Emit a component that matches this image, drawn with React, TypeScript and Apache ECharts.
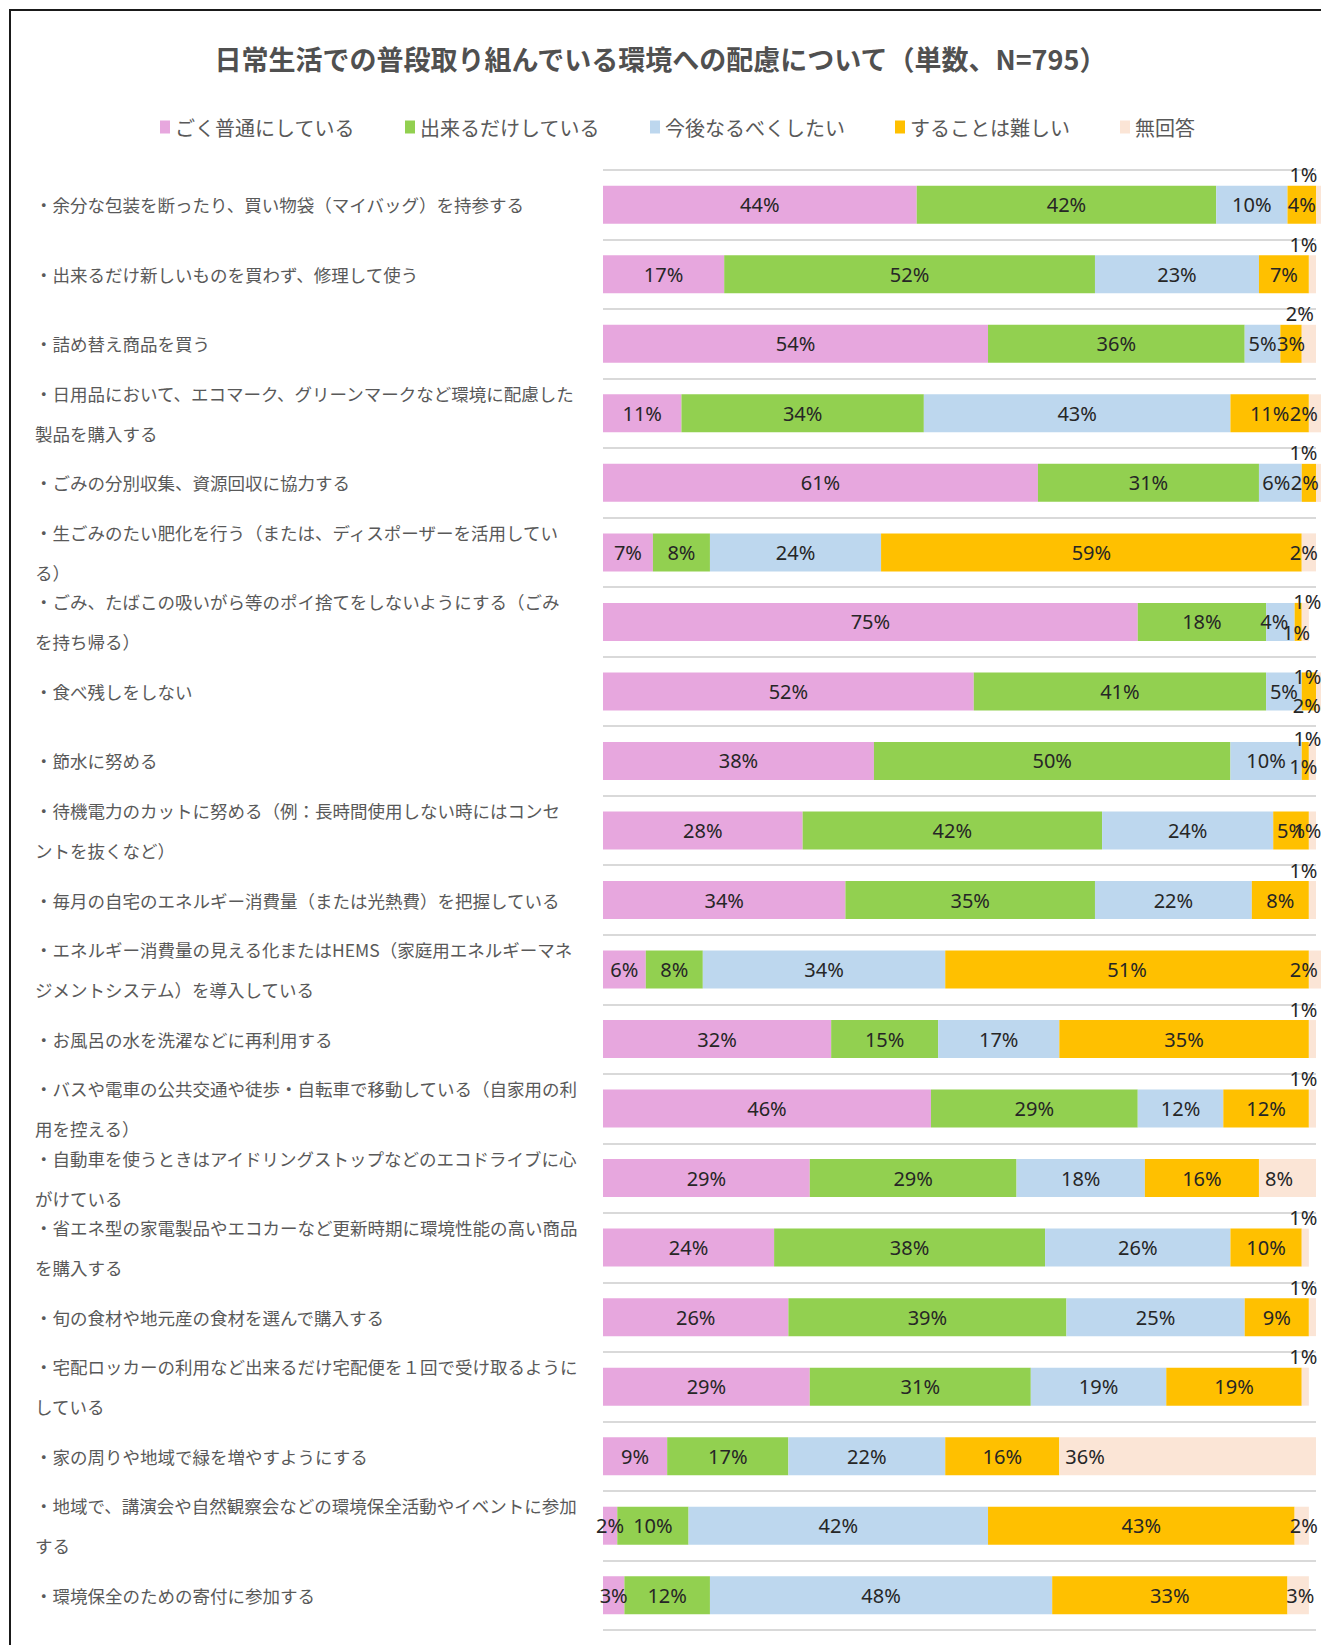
import React, { useEffect, useRef } from "react";
import * as echarts from "echarts";

const titleText = "日常生活での普段取り組んでいる環境への配慮について（単数、N=795）";

const seriesNames = ["ごく普通にしている", "出来るだけしている", "今後なるべくしたい", "することは難しい", "無回答"];
const seriesColors = ["#e7a7de", "#92d050", "#bdd7ee", "#ffc000", "#fbe5d6"];

const categories = [
  "・余分な包装を断ったり、買い物袋（マイバッグ）を持参する",
  "・出来るだけ新しいものを買わず、修理して使う",
  "・詰め替え商品を買う",
  "・日用品において、エコマーク、グリーンマークなど環境に配慮した\n製品を購入する",
  "・ごみの分別収集、資源回収に協力する",
  "・生ごみのたい肥化を行う（または、ディスポーザーを活用してい\nる）",
  "・ごみ、たばこの吸いがら等のポイ捨てをしないようにする（ごみ\nを持ち帰る）",
  "・食べ残しをしない",
  "・節水に努める",
  "・待機電力のカットに努める（例：長時間使用しない時にはコンセ\nントを抜くなど）",
  "・毎月の自宅のエネルギー消費量（または光熱費）を把握している",
  "・エネルギー消費量の見える化またはHEMS（家庭用エネルギーマネ\nジメントシステム）を導入している",
  "・お風呂の水を洗濯などに再利用する",
  "・バスや電車の公共交通や徒歩・自転車で移動している（自家用の利\n用を控える）",
  "・自動車を使うときはアイドリングストップなどのエコドライブに心\nがけている",
  "・省エネ型の家電製品やエコカーなど更新時期に環境性能の高い商品\nを購入する",
  "・旬の食材や地元産の食材を選んで購入する",
  "・宅配ロッカーの利用など出来るだけ宅配便を１回で受け取るように\nしている",
  "・家の周りや地域で緑を増やすようにする",
  "・地域で、講演会や自然観察会などの環境保全活動やイベントに参加\nする",
  "・環境保全のための寄付に参加する",
];

const valFutsu = [44, 17, 54, 11, 61, 7, 75, 52, 38, 28, 34, 6, 32, 46, 29, 24, 26, 29, 9, 2, 3];
const valDekiru = [42, 52, 36, 34, 31, 8, 18, 41, 50, 42, 35, 8, 15, 29, 29, 38, 39, 31, 17, 10, 12];
const valKongo = [10, 23, 5, 43, 6, 24, 4, 5, 10, 24, 22, 34, 17, 12, 18, 26, 25, 19, 22, 42, 48];
const valMuzukashii = [4, 7, 3, 11, 2, 59, 1, 2, 1, 5, 8, 51, 35, 12, 16, 10, 9, 19, 16, 43, 33];
const valMukaito = [1, 1, 2, 2, 1, 2, 1, 1, 1, 1, 1, 2, 1, 1, 8, 1, 1, 1, 36, 2, 3];

// label placement tweaks (by row index) for small segments
const peachTopRows = [0, 1, 2, 4, 10, 12, 13, 15, 16, 17];
const peachUpper: Record<number, number> = { 6: -20, 7: -15, 8: -22 };
const peachLeftRows = [14, 18];
const orangeLower: Record<number, number> = { 6: 11, 7: 14, 8: 6 };
const orangeLeft: Record<number, number> = { 4: -4 };
const blueLeft: Record<number, number> = { 4: -4, 6: -6 };

export default function App() {
  const ref = useRef<HTMLDivElement>(null);
  useEffect(() => {
    if (!ref.current) return;
    const chart = echarts.init(ref.current, undefined, { renderer: "svg" });
    const allValues = [valFutsu, valDekiru, valKongo, valMuzukashii, valMukaito];
    const rowSums = categories.map((_, i) => allValues.reduce((a, arr) => a + arr[i], 0));
    // px per percentage unit on the value axis (plot width 713 / 100)
    const unitPx = 7.1;

    const makeData = (vals: number[], s: number) =>
      vals.map((v, i) => {
        const shift = (100 - rowSums[i]) * unitPx;
        if (s === 4) {
          if (peachTopRows.includes(i))
            return { value: v, label: { position: "top", distance: 1, offset: [-9 + shift, 0] } };
          if (peachUpper[i] !== undefined)
            return { value: v, label: { position: "inside", offset: [-5 + shift, peachUpper[i]] } };
          if (peachLeftRows.includes(i)) return { value: v, label: { position: "insideLeft", distance: 6 } };
          return { value: v, label: { position: "inside", offset: [-5 + shift, 0] } };
        }
        if (s === 3 && orangeLower[i] !== undefined) {
          return { value: v, label: { position: "inside", offset: [-2, orangeLower[i]] } };
        }
        if (s === 3 && orangeLeft[i] !== undefined) {
          return { value: v, label: { position: "inside", offset: [orangeLeft[i], 0] } };
        }
        if (s === 2 && blueLeft[i] !== undefined) {
          return { value: v, label: { position: "inside", offset: [blueLeft[i], 0] } };
        }
        return v;
      });

    const series = allValues.map((vals, s) => ({
      name: seriesNames[s],
      type: "bar",
      stack: "total",
      barWidth: 38,
      clip: false,
      itemStyle: { color: seriesColors[s] },
      label: {
        show: true,
        position: "inside",
        formatter: "{c}%",
        fontSize: 20,
        fontFamily: "Noto Sans",
        color: "#262626",
      },
      data: makeData(vals, s),
    }));

    chart.setOption({
      animation: false,
      backgroundColor: "#ffffff",
      title: {
        text: titleText,
        left: "center",
        top: 40,
        textStyle: {
          fontSize: 27,
          fontWeight: "bold",
          color: "#505050",
          fontFamily: "Noto Sans CJK JP",
        },
      },
      legend: {
        data: seriesNames,
        left: 155,
        top: 112,
        icon: "rect",
        itemWidth: 10,
        itemHeight: 13,
        itemGap: 50,
        textStyle: { fontSize: 20, color: "#595959", fontFamily: "Noto Sans CJK JP" },
      },
      graphic: [
        {
          type: "rect",
          shape: { x: 10, y: 10, width: 1400, height: 1700 },
          style: { fill: "none", stroke: "#1a1a1a", lineWidth: 2 },
          silent: true,
        },
      ],
      grid: { left: 603, right: 5, top: 170, bottom: 15 },
      xAxis: { type: "value", min: 0, max: 100, show: false },
      yAxis: {
        type: "category",
        inverse: true,
        data: categories,
        axisLine: { show: false },
        axisTick: { show: false },
        splitLine: { show: true, lineStyle: { color: "#d9d9d9", width: 2 } },
        axisLabel: {
          align: "left",
          margin: 568,
          fontSize: 17.5,
          lineHeight: 40,
          color: "#595959",
          fontFamily: "Noto Sans CJK JP",
        },
      },
      series,
    });
    return () => chart.dispose();
  }, []);
  return (
    <div
      ref={ref}
      style={{ position: "absolute", left: 0, top: 0, width: 1321, height: 1645, background: "#fff" }}
    />
  );
}
